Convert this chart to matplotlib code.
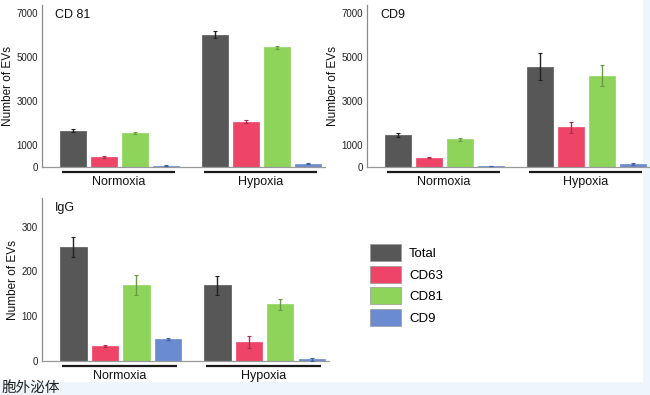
import matplotlib
matplotlib.use("Agg")
import matplotlib.pyplot as plt
from matplotlib.patches import Patch, Rectangle
import numpy as np

plt.rcParams['font.family'] = ['Liberation Sans', 'Noto Sans CJK SC', 'DejaVu Sans']

groups = ["Normoxia", "Hypoxia"]
series = ["Total", "CD63", "CD81", "CD9"]
colors = ["#575757", "#ee4467", "#8ed45b", "#6a8bd0"]
err_colors = ["#222222", "#a8304c", "#6a9a44", "#3f5f9f"]

# values[series] = [Normoxia, Hypoxia]
cd81_vals = {"Total": [1650, 6010], "CD63": [440, 2060], "CD81": [1545, 5440], "CD9": [60, 150]}
cd81_err = {"Total": [80, 150], "CD63": [40, 80], "CD81": [40, 60], "CD9": [10, 30]}

cd9_vals = {"Total": [1460, 4560], "CD63": [430, 1810], "CD81": [1250, 4150], "CD9": [50, 120]}
cd9_err = {"Total": [90, 600], "CD63": [20, 250], "CD81": [50, 470], "CD9": [10, 40]}

igg_vals = {"Total": [254, 169], "CD63": [34, 42], "CD81": [169, 127], "CD9": [49, 4]}
igg_err = {"Total": [22, 21], "CD63": [2, 13], "CD81": [22, 12], "CD9": [3, 3]}

panels = [
    ("CD 81", cd81_vals, cd81_err, [0, 1000, 3000, 5000, 7000], 7360),
    ("CD9", cd9_vals, cd9_err, [0, 1000, 3000, 5000, 7000], 7360),
    ("IgG", igg_vals, igg_err, [0, 100, 200, 300], 364),
]

W, H = 650, 395
fig = plt.figure(figsize=(6.5, 3.95), dpi=100, facecolor="#eef5fb")
bg = Rectangle((0, 1 - 382 / H), 643 / W, 382 / H, transform=fig.transFigure,
               facecolor="white", edgecolor="none", zorder=-10)
fig.add_artist(bg)

def px_axes(left, top, right, bottom):
    return fig.add_axes([left / W, 1 - bottom / H, (right - left) / W, (bottom - top) / H])

axes = [
    px_axes(42, 5, 325, 167),
    px_axes(367, 5, 650, 167),
    px_axes(42, 198, 329, 361),
]

group_offset = 4.58
pitch = 1.0
bw = 0.84

for ax, (title, vals, errs, ticks, ytop) in zip(axes, panels):
    ax.set_facecolor("none")
    for gi, g in enumerate(groups):
        for si, s in enumerate(series):
            x = gi * group_offset + si * pitch
            ax.bar(x, vals[s][gi], width=bw, color=colors[si], edgecolor=colors[si], linewidth=0.5, zorder=2)
            ax.errorbar(x, vals[s][gi], yerr=errs[s][gi], color=err_colors[si], elinewidth=1.0,
                        capsize=1.5, capthick=0.8, zorder=3)
        gx0 = gi * group_offset - 0.35
        gx1 = gi * group_offset + 3.29
        ax.plot([gx0, gx1], [-0.031, -0.031],
                transform=ax.get_xaxis_transform(), color="#1a1a1a", lw=1.6, clip_on=False,
                solid_capstyle="butt")
        ax.text(gi * group_offset + 1.47, -0.095, g, transform=ax.get_xaxis_transform(),
                ha="center", va="center", fontsize=9, color="#111111")
    ax.set_xlim(-1.0, 8.13)
    ax.set_ylim(0, ytop)
    ax.set_yticks(ticks)
    ax.set_yticklabels([str(t) for t in ticks], fontsize=7, color="#222222")
    ax.set_xticks([])
    ax.tick_params(axis="y", length=0, pad=3)
    for sp in ["top", "right"]:
        ax.spines[sp].set_visible(False)
    ax.spines["left"].set_color("#8a8a8a")
    ax.spines["bottom"].set_color("#9a9a9a")
    ax.spines["left"].set_linewidth(0.9)
    ax.spines["bottom"].set_linewidth(0.9)
    ax.set_ylabel("Number of EVs", fontsize=8.5, color="#111111", labelpad=2)
    ax.text(0.046, 0.94, title, transform=ax.transAxes, fontsize=9, ha="left", va="center", color="#111111")

handles = [Patch(facecolor=c, edgecolor="#999999", linewidth=0.5) for c in colors]
fs = 9.5
fspx = fs / 72 * 100
fig.legend(handles, series, loc="upper left", bbox_to_anchor=(370 / W, 1 - 244 / H),
           bbox_transform=fig.transFigure, frameon=False, fontsize=fs,
           handlelength=31 / fspx, handleheight=1.605, labelspacing=0.36,
           handletextpad=0.6, borderpad=0, borderaxespad=0)

fig.text(2 / W, 0.0, "胞外泌体", fontsize=10.5, ha="left", va="bottom", color="#222222",
         family=['Noto Sans CJK SC', 'DejaVu Sans'])

fig.savefig("out.png", dpi=100, facecolor=fig.get_facecolor())
